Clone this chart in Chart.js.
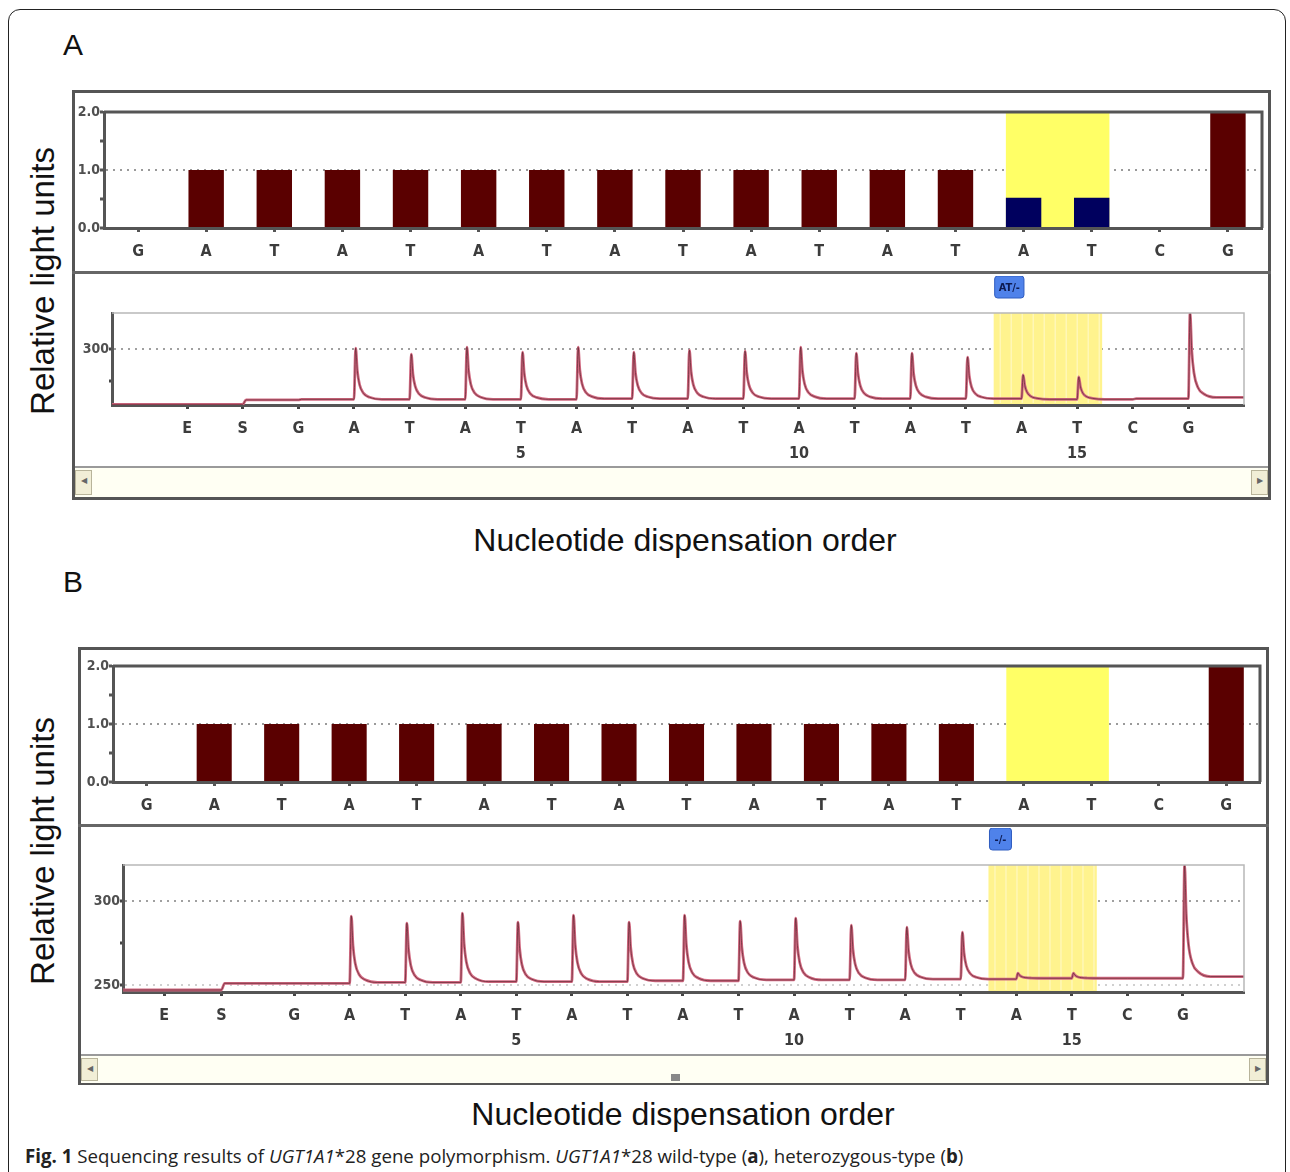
<!DOCTYPE html>
<html>
<head>
<meta charset="utf-8">
<script src="https://cdn.jsdelivr.net/npm/chart.js@4.4.0/dist/chart.umd.min.js"></script>
<style>
  body { margin: 0; background: #fff; }
  #page { position: relative; width: 1290px; height: 1172px; overflow: hidden; font-family: "Liberation Sans", Arial, sans-serif; color: #111; }
  .abs { position: absolute; }
  .outer { left: 8px; top: 9px; width: 1276px; height: 1240px; border: 1.5px solid #222; border-radius: 12px; }
  .frame { border: 3px solid #555; box-sizing: border-box; background: #fff; }
  .divider { height: 3px; background: #666; }
  .plabel { font-size: 30px; line-height: 30px; }
  .xtitle { font-size: 32px; line-height: 32px; width: 800px; text-align: center; }
  .ytitle { font-size: 33px; line-height: 33px; white-space: nowrap; transform: translate(-50%, -50%) rotate(-90deg); }
  .scroll { background: #fffff3; border-top: 2px solid #9a9a9a; box-sizing: border-box; }
  .btn { position: absolute; top: 2px; width: 17px; bottom: 2px; background: #f1eed6; border: 1px solid #b8b49a; box-sizing: border-box; font-size: 8px; line-height: 20px; text-align: center; color: #666; }
  .caption { left: 25px; top: 1143px; font-family: "Open Sans", sans-serif; font-size: 18.7px; white-space: nowrap; color: #222; }
  canvas { position: absolute; }
</style>
</head>
<body>
<div id="page">
  <div class="abs outer"></div>

  <div class="abs plabel" style="left:63px;top:30px">A</div>
  <div class="abs frame" style="left:72px;top:90px;width:1199px;height:410px"></div>
  <div class="abs divider" style="left:72px;top:271px;width:1199px"></div>
  <div class="abs scroll" style="left:75px;top:466px;width:1193px;height:31px">
    <div class="btn" style="left:0">&#9664;</div>
    <div class="btn" style="right:0">&#9654;</div>
  </div>
  <canvas id="barA"></canvas>
  <canvas id="traceA"></canvas>
  <div class="abs ytitle" style="left:42px;top:281px">Relative light units</div>
  <div class="abs xtitle" style="left:285px;top:524px">Nucleotide dispensation order</div>

  <div class="abs plabel" style="left:63px;top:567px">B</div>
  <div class="abs frame" style="left:78px;top:647px;width:1191px;height:438px"></div>
  <div class="abs divider" style="left:78px;top:824px;width:1191px"></div>
  <div class="abs scroll" style="left:81px;top:1054px;width:1185px;height:29px">
    <div class="btn" style="left:0">&#9664;</div>
    <div class="btn" style="right:0">&#9654;</div>
    <div class="abs" style="left:590px;top:18px;width:9px;height:7px;background:#888"></div>
  </div>
  <canvas id="barB"></canvas>
  <canvas id="traceB"></canvas>
  <div class="abs ytitle" style="left:42px;top:851px">Relative light units</div>
  <div class="abs xtitle" style="left:283px;top:1098px">Nucleotide dispensation order</div>

  <div class="abs caption"><b>Fig. 1</b> Sequencing results of <i>UGT1A1</i>*28 gene polymorphism. <i>UGT1A1</i>*28 wild-type (<b>a</b>), heterozygous-type (<b>b</b>)</div>
</div>

<script>
// histogram (expected peak pattern) - one bar per dispensed nucleotide
const barLabels = ['G', 'A', 'T', 'A', 'T', 'A', 'T', 'A', 'T', 'A', 'T', 'A', 'T', 'A', 'T', 'C', 'G'];
const barsA = [0, 1, 1, 1, 1, 1, 1, 1, 1, 1, 1, 1, 1, 0.52, 0.52, 0, 2];
const barsB = [0, 1, 1, 1, 1, 1, 1, 1, 1, 1, 1, 1, 1, 0, 0, 0, 2];
const variantBars = [13, 14];
const barTicks = [0, 0.5, 1, 1.5, 2];

// pyrogram - dispensation order incl. enzyme (E) and substrate (S)
const dispLabels = ['E', 'S', 'G', 'A', 'T', 'A', 'T', 'A', 'T', 'A', 'T', 'A', 'T', 'A', 'T', 'A', 'T', 'C', 'G'];
const dispTimeA = [0, 1, 2, 3, 4, 5, 6, 7, 8, 9, 10, 11, 12, 13, 14, 15, 16, 17, 18];
const dispTimeB = [-0.34, 0.69, 2, 3, 4, 5, 6, 7, 8, 9, 10, 11, 12, 13, 14, 15, 16, 17, 18];
const variantDisp = [15, 16];

const peaksA = [null, null, null, 300.8, 296, 301.5, 297.6, 301.5, 297.6, 299.2, 298.4, 301.5, 296.9, 296.9, 293.8, 279.7, 278.1, null, 329];
const baseA = [256.5, 260, 260.5, 260.5, 260.5, 260.5, 260.5, 261, 261, 261, 261, 261, 261, 261, 261, 260.5, 260.5, 261, 262];
const peaksB = [null, null, null, 291.1, 286.9, 292.9, 287.5, 291.7, 287.5, 291.7, 288.1, 289.9, 285.7, 284.5, 281.5, 257.1, 257.1, null, 322];
const baseB = [247, 251, 251, 251.5, 251.5, 252, 252, 252, 252.5, 252.5, 253, 253, 253, 253.5, 253.5, 254, 254, 254, 255];

const traceTicksA = [275, 300];
const traceTickLabelsA = ['', '300'];
const traceTicksB = [250, 275, 300];
const traceTickLabelsB = ['250', '', '300'];

// look of one light peak: [offset after dispensation, fraction of peak height]
const PEAK_SHAPE = [[0.03, 1], [0.06, 0.56], [0.1, 0.29], [0.17, 0.12], [0.28, 0.04], [0.5, 0]];

const MAROON = '#5a0000';
const NAVY = '#00005e';
const tickFont = { family: '"DejaVu Sans Condensed", "DejaVu Sans", sans-serif', weight: 'bold', size: 16 };

function place(cv, area, pad) {
  const w = area.right - area.left + pad.left + pad.right;
  const h = area.bottom - area.top + pad.top + pad.bottom;
  cv.width = w; cv.height = h;
  cv.style.left = (area.left - pad.left) + 'px';
  cv.style.top = (area.top - pad.top) + 'px';
  cv.style.width = w + 'px'; cv.style.height = h + 'px';
}

function zonePlugin(from, to, color, stripes) {
  return {
    id: 'zone',
    beforeDatasetsDraw(chart) {
      const { ctx, chartArea: a, scales: { x } } = chart;
      const l = x.getPixelForValue(from), r = x.getPixelForValue(to);
      ctx.save();
      ctx.fillStyle = color;
      ctx.fillRect(l, a.top, r - l, a.bottom - a.top - 1);
      if (stripes) {
        ctx.strokeStyle = 'rgba(255,255,255,0.55)';
        ctx.lineWidth = 1;
        for (let sx = l + 6; sx < r - 2; sx += 11) {
          ctx.beginPath(); ctx.moveTo(sx + 0.5, a.top); ctx.lineTo(sx + 0.5, a.bottom - 2); ctx.stroke();
        }
      }
      ctx.restore();
    }
  };
}

function framePlugin(color, width) {
  return {
    id: 'frame',
    afterDraw(chart) {
      const { ctx, chartArea: a } = chart;
      ctx.save();
      ctx.strokeStyle = color; ctx.lineWidth = width;
      ctx.beginPath();
      ctx.moveTo(a.left, a.top); ctx.lineTo(a.right, a.top); ctx.lineTo(a.right, a.bottom);
      ctx.stroke();
      ctx.restore();
    }
  };
}

function tagPlugin(atValue, text) {
  return {
    id: 'tag',
    afterDraw(chart) {
      const { ctx, chartArea: a, scales: { x } } = chart;
      ctx.save();
      ctx.font = 'bold 11px "DejaVu Sans Condensed", sans-serif';
      const w = Math.max(22, ctx.measureText(text).width + 8), h = 22;
      const l = x.getPixelForValue(atValue) + 1, t = a.top - 37;
      ctx.fillStyle = '#4f82ea';
      ctx.strokeStyle = '#2f5cc0';
      ctx.lineWidth = 1;
      ctx.beginPath(); ctx.roundRect(l, t, w, h, 3); ctx.fill(); ctx.stroke();
      ctx.fillStyle = '#0d1a50';
      ctx.textAlign = 'center'; ctx.textBaseline = 'middle';
      ctx.fillText(text, l + w / 2, t + h / 2 + 1);
      ctx.restore();
    }
  };
}

function barChart(id, area, values) {
  const pad = { left: 30, top: 18, right: 6, bottom: 40 };
  const cv = document.getElementById(id);
  place(cv, area, pad);
  const half = 0.26;
  return new Chart(cv, {
    type: 'bar',
    data: {
      labels: barLabels,
      datasets: [{
        data: values,
        backgroundColor: values.map((v, i) => variantBars.includes(i) ? NAVY : MAROON),
        barPercentage: 0.52,
        categoryPercentage: 1
      }]
    },
    options: {
      responsive: false, animation: false, devicePixelRatio: 1,
      layout: { padding: { top: pad.top, right: pad.right, left: 0, bottom: 0 } },
      plugins: { legend: { display: false }, tooltip: { enabled: false } },
      scales: {
        x: {
          offset: true,
          grid: { display: true, drawOnChartArea: false, offset: false, tickLength: 4, tickColor: '#555', tickWidth: 3 },
          border: { color: '#555', width: 3 },
          ticks: { font: tickFont, color: '#3c3c3c', padding: 10, maxRotation: 0, autoSkip: false },
          afterFit: s => { s.height = pad.bottom; }
        },
        y: {
          min: 0, max: 2,
          afterBuildTicks: s => { s.ticks = barTicks.map(v => ({ value: v })); },
          ticks: { font: { ...tickFont, size: 14 }, color: '#505050', padding: 0, callback: v => v % 1 === 0 ? v.toFixed(1) : '' },
          grid: { color: c => c.tick && c.tick.value === 1 ? '#9a9a9a' : 'rgba(0,0,0,0)', lineWidth: 2, tickColor: '#555', tickLength: 4, tickWidth: 3 },
          border: { color: '#555', width: 3, dash: [2, 5] },
          afterFit: s => { s.width = pad.left; }
        }
      }
    },
    plugins: [
      zonePlugin(variantBars[0] - half, variantBars[variantBars.length - 1] + half, '#ffff66', false),
      framePlugin('#555', 3)
    ]
  });
}

function buildTrace(times, base, peaks, xmin, xmax) {
  const pts = [{ x: xmin, y: base[0] }];
  let level = base[0];
  times.forEach((t, i) => {
    pts.push({ x: t, y: level });
    if (peaks[i] !== null) {
      PEAK_SHAPE.forEach(([dx, f]) => pts.push({ x: t + dx, y: base[i] + (peaks[i] - base[i]) * f }));
    } else if (base[i] !== level) {
      pts.push({ x: t + 0.06, y: base[i] });
    }
    level = base[i];
  });
  pts.push({ x: xmax, y: level });
  return pts;
}

function traceChart(id, area, opt) {
  const pad = { left: area.left - area.frameLeft, top: 37, right: 22, bottom: 60 };
  const cv = document.getElementById(id);
  place(cv, area, pad);
  const pts = buildTrace(opt.times, opt.base, opt.peaks, opt.xmin, opt.xmax);
  const line = { pointRadius: 0, cubicInterpolationMode: 'monotone', fill: false };
  return new Chart(cv, {
    type: 'line',
    data: {
      datasets: [
        { ...line, data: pts, borderColor: 'rgba(85,30,40,0.65)', borderWidth: 1 },
        { ...line, data: pts, borderColor: '#d26a82', borderWidth: 2.8 }
      ]
    },
    options: {
      responsive: false, animation: false, devicePixelRatio: 1,
      layout: { padding: { top: pad.top, right: pad.right, left: 0, bottom: 0 } },
      plugins: { legend: { display: false }, tooltip: { enabled: false } },
      scales: {
        x: {
          type: 'linear', min: opt.xmin, max: opt.xmax,
          afterBuildTicks: s => { s.ticks = opt.times.map(v => ({ value: v })); },
          grid: { display: true, drawOnChartArea: false, tickLength: 4, tickColor: '#444', tickWidth: 3 },
          border: { color: '#555', width: 3 },
          ticks: {
            font: { ...tickFont, lineHeight: 1.5625 }, color: '#3c3c3c', padding: 7, maxRotation: 0, autoSkip: false,
            callback: (v, i) => {
              const n = i - 1;
              return [dispLabels[i], (i >= 2 && n % 5 === 0) ? String(n) : ''];
            }
          },
          afterFit: s => { s.height = pad.bottom; }
        },
        y: {
          min: opt.ymin, max: opt.ymax,
          afterBuildTicks: s => { s.ticks = opt.yTicks.map(v => ({ value: v })); },
          ticks: { font: { ...tickFont, size: 14 }, color: '#505050', padding: 0, callback: (v, i) => opt.yLabels[i] },
          grid: { color: c => c.tick && c.index !== undefined && opt.yLabels[c.index] ? opt.gridColor(c.tick.value) : 'rgba(0,0,0,0)', lineWidth: 2, tickColor: '#444', tickLength: 3, tickWidth: 3 },
          border: { color: '#555', width: 3, dash: [2, 5] },
          afterFit: s => { s.width = pad.left; }
        }
      }
    },
    plugins: [
      zonePlugin(variantDisp[0] - 0.5, variantDisp[variantDisp.length - 1] + 0.45, '#fff38e', true),
      framePlugin('#b8b8b8', 1.5),
      tagPlugin(variantDisp[0] - 0.5, opt.tag)
    ]
  });
}

barChart('barA', { left: 104, top: 112, right: 1262, bottom: 228 }, barsA);
barChart('barB', { left: 113, top: 666, right: 1260, bottom: 782 }, barsB);

traceChart('traceA', { frameLeft: 75, left: 112, top: 313, right: 1244, bottom: 405 }, {
  times: dispTimeA, base: baseA, peaks: peaksA, xmin: -1.35, xmax: 19.0,
  ymin: 256, ymax: 328.5, yTicks: traceTicksA, yLabels: traceTickLabelsA,
  gridColor: v => '#a0a0a0', tag: 'AT/-'
});
traceChart('traceB', { frameLeft: 81, left: 123, top: 865, right: 1244, bottom: 992 }, {
  times: dispTimeB, base: baseB, peaks: peaksB, xmin: -1.08, xmax: 19.1,
  ymin: 245.8, ymax: 321.6, yTicks: traceTicksB, yLabels: traceTickLabelsB,
  gridColor: v => v === 300 ? '#a0a0a0' : '#d0d0d0', tag: '-/-'
});
</script>
</body>
</html>
